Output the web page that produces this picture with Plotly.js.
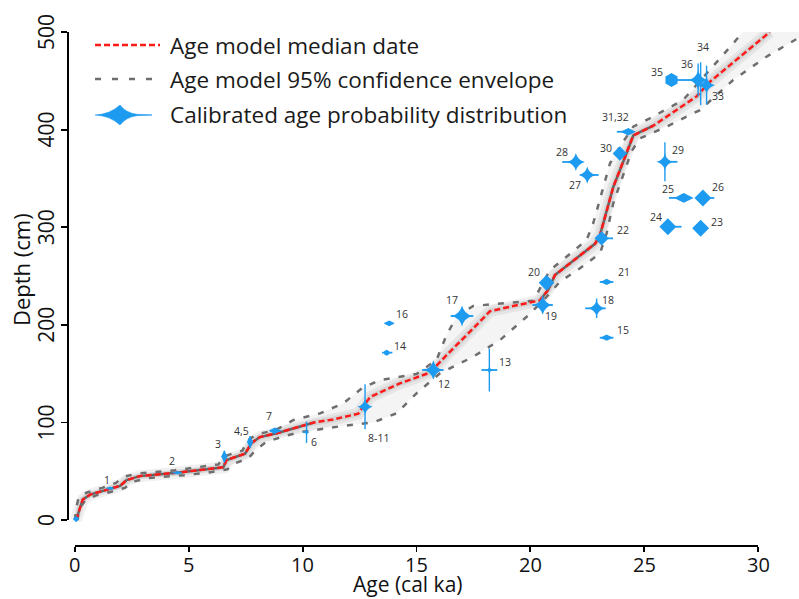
<!DOCTYPE html>
<html>
<head>
<meta charset="utf-8">
<script src="https://cdn.plot.ly/plotly-3.0.1.min.js"></script>
<style>html,body{margin:0;padding:0;background:#fff;}#chart{width:799px;height:599px;}</style>
</head>
<body>
<div id="chart"></div>
<script>
// ---------- DATA ----------
// Age model median (age in cal ka, depth in cm)
const medianAge   = [0.05, 0.2, 0.34, 0.66, 1.39, 1.98, 2.27, 2.85, 4.47, 5.49, 6.51, 6.66, 6.95, 7.47, 7.76, 8.12, 8.86, 9.59, 10.5, 11.34, 12.44, 12.96, 14.27, 15.59, 16.32, 17.35, 18.23, 19.4, 20.42, 20.79, 21.08, 22.84, 23.06, 23.64, 24.23, 24.52, 25.4, 27.3, 27.89, 30.52];
const medianDepth = [0, 10, 21, 26, 31, 35, 41, 45, 48.5, 51, 54, 61.5, 64, 68, 79, 85, 89, 94, 100, 103, 109, 126, 140, 151, 169, 193, 214, 220, 225, 236, 251, 283, 292, 341, 376, 394, 404, 434, 449, 500];

// 95% confidence envelope, younger (left) bound
const envYoungAge   = [0, 0.05, 0.15, 0.5, 1.2, 1.8, 2.1, 2.7, 4.4, 5.4, 6.3, 6.55, 6.9, 7.35, 7.6, 8.0, 8.8, 9.6, 10.76, 11.78, 12.6, 13.39, 15.0, 15.88, 16.32, 16.76, 17.49, 20.13, 20.86, 21.59, 22.47, 22.76, 23.06, 23.5, 23.93, 24.52, 25.25, 26.71, 28.91, 29.35];
const envYoungDepth = [0, 12, 22, 28, 33, 38, 44, 47.5, 51, 54, 57, 65, 68, 71, 82, 88, 92, 102.5, 109.3, 119.5, 135, 143.4, 149.6, 164, 189.5, 208.3, 219.3, 224.7, 256, 269.8, 286.9, 304, 327.9, 365.5, 382.5, 403, 411.6, 430.3, 488.4, 500.3];

// 95% confidence envelope, older (right) bound
const envOldAge   = [0.1, 0.2, 0.45, 0.9, 1.6, 2.2, 2.5, 3.2, 4.8, 5.8, 6.7, 7.0, 7.6, 7.95, 8.4, 9.2, 9.88, 11.64, 13.1, 14.12, 15.0, 16.03, 17.49, 18.67, 19.84, 20.65, 21.3, 22.18, 23.06, 23.35, 23.64, 24.15, 24.45, 24.81, 25.98, 27.45, 28.91, 30.37, 31.62, 32.3];
const envOldDepth = [0, 12, 20, 25, 29, 33, 39, 43, 46, 48.5, 52, 58, 63, 72, 80, 86, 90, 96, 100, 109.3, 129.8, 150.3, 167.3, 184.4, 208.3, 227, 244.2, 257.9, 273.2, 293.7, 324.5, 358.6, 378, 391, 403, 420, 450.8, 474.7, 491.8, 500];

// Calibrated radiocarbon dates
const dateLabel = ['', '1', '2', '3', '4,5', '7', '6', '8-11', '12', '13', '14', '16', '17', '19', '20', '18', '21', '15', '22', '28', '27', '30', '29', '25', '26', '24', '23', '31,32', '35', '36', '34', '33'];
const dateAge   = [0.05, 1.54, 4.49, 6.56, 7.69, 8.78, 10.17, 12.74, 15.74, 18.2, 13.69, 13.8, 17.0, 20.54, 20.71, 22.91, 23.35, 23.35, 23.13, 22.0, 22.5, 23.93, 25.91, 26.74, 27.58, 26.04, 27.48, 24.3, 26.2, 27.37, 27.48, 27.74];
const dateDepth = [1, 32.5, 48.5, 65, 80, 91.5, 90, 116, 153.7, 153.7, 171.5, 201.5, 209, 220.3, 243, 216.9, 243.9, 186.8, 288.6, 366.8, 353.5, 375.5, 367, 330, 330, 300.5, 298.9, 397.8, 450.8, 450.8, 447, 445.5];
const dateAgeMinus = [0.08, 0.15, 0.2, 0.1, 0.1, 0.2, 0.15, 0.15, 0.5, 0.35, 0.2, 0.15, 0.5, 0.45, 0.15, 0.5, 0.3, 0.3, 0.1, 0.6, 0.3, 0.2, 0.15, 0.65, 0.2, 0.1, 0.2, 0.5, 0.2, 0.1, 0.02, 0.1];
const dateAgePlus  = [0.08, 0.15, 0.2, 0.1, 0.1, 0.25, 0.05, 0.15, 0.45, 0.35, 0.25, 0.15, 0.5, 0.45, 0.15, 0.4, 0.3, 0.3, 0.5, 0.3, 0.5, 0.1, 0.55, 0.35, 0.5, 0.6, 0.2, 0.2, 1.0, 0.1, 0.02, 0.1];
const dateDepthErr = [0, 0, 0, 6, 6, 0, 11, 23, 5, 22, 0, 0, 6, 5, 4, 10, 0, 0, 3, 6, 5, 3, 20, 0, 0, 4, 3, 2, 0, 17, 22, 20];

// axis ticks
const xTickVals = [0, 5, 10, 15, 20, 25, 30];
const yTickVals = [0, 100, 200, 300, 400, 500];

// ---------- STYLE (not data) ----------
const BLUE = '#1d9bf0';
const dateSymbol = ['diamond', 'diamond-wide', 'diamond-wide', 'diamond-tall', 'diamond-tall', 'diamond-wide', 'star-diamond', 'star-diamond', 'star-diamond', 'star-diamond', 'hexagon', 'diamond-wide', 'star-diamond', 'star-diamond', 'diamond', 'star-diamond', 'diamond-wide', 'diamond-wide', 'diamond', 'star-diamond', 'star-diamond', 'diamond', 'star-diamond', 'diamond-wide', 'diamond', 'diamond', 'diamond', 'diamond-wide', 'hexagon', 'star-diamond', 'circle', 'star-diamond'];
const dateSize = [5, 5, 5, 9, 9, 9, 4, 11, 14, 5, 6, 8, 15, 14, 12, 12, 9, 9, 11, 13, 12, 11, 12, 14, 13, 13, 13, 11, 14, 14, 2, 12];
// label offsets in px [xshift, yshift]
const labelShift = [[0,0],[-3,8],[-5,12],[-6,13],[-9,11],[-6,15],[7,-10],[13,-31],[11,-14],[16,8],[13,7],[13,9],[-10,16],[8,-11],[-13,11],[11,8],[17,10],[16,8],[21,8],[-14,10],[-12,-10],[-14,6],[13,12],[-16,9],[15,11],[-12,10],[16,6],[-13,15],[-15,8],[-11,16],[2,37],[11,-11]];

// plot geometry
const L = 68, T = 32, W = 731, H = 514;
const px2paperX = p => (p - L) / W;
const px2paperY = p => (T + H - p) / H;

// envelope polygon: younger bound up, older bound back down
const bandX = envYoungAge.concat(envOldAge.slice().reverse());
const bandY = envYoungDepth.concat(envOldDepth.slice().reverse());

// dark core of the shading where the envelope is narrow
const coreX = [], coreY = [];
for (let i = 0; i < medianAge.length; i++) {
  const d = medianDepth[i];
  if (d <= 100 || (d >= 225 && d <= 404)) { coreX.push(medianAge[i]); coreY.push(d); }
  else if (coreX.length && coreX[coreX.length - 1] !== null) { coreX.push(null); coreY.push(null); }
}

const traces = [
  {x: bandX, y: bandY, mode: 'lines', fill: 'toself', fillcolor: 'rgba(0,0,0,0.045)', line: {width: 0, color: 'rgba(0,0,0,0)'}, hoverinfo: 'skip', showlegend: false},
  {x: medianAge, y: medianDepth, mode: 'lines', line: {width: 12, color: 'rgba(0,0,0,0.06)'}, hoverinfo: 'skip', showlegend: false},
  {x: medianAge, y: medianDepth, mode: 'lines', line: {width: 6, color: 'rgba(0,0,0,0.07)'}, hoverinfo: 'skip', showlegend: false},
  {x: coreX, y: coreY, mode: 'lines', connectgaps: false, line: {width: 2.5, color: 'rgba(25,25,25,0.6)'}, hoverinfo: 'skip', showlegend: false},
  {x: envYoungAge, y: envYoungDepth, mode: 'lines', line: {width: 2.5, color: '#6e6e6e', dash: '6px,9px'}, showlegend: false},
  {x: envOldAge, y: envOldDepth, mode: 'lines', line: {width: 2.5, color: '#6e6e6e', dash: '6px,9px'}, showlegend: false},
  {x: medianAge, y: medianDepth, mode: 'lines', line: {width: 2.5, color: '#ff1a1a', dash: '6px,3px'}, showlegend: false},
  {x: dateAge, y: dateDepth, mode: 'markers',
   marker: {color: BLUE, size: dateSize, symbol: dateSymbol, opacity: 1, line: {width: 0}},
   error_x: {type: 'data', symmetric: false, array: dateAgePlus, arrayminus: dateAgeMinus, color: BLUE, thickness: 1.8, width: 0},
   error_y: {type: 'data', symmetric: true, array: dateDepthErr, color: BLUE, thickness: 1.4, width: 0},
   showlegend: false}
];

const FONT = '"Open Sans", "DejaVu Sans", sans-serif';
const annotations = [];
for (let i = 0; i < dateLabel.length; i++) {
  if (!dateLabel[i]) continue;
  annotations.push({x: dateAge[i], y: dateDepth[i], xref: 'x', yref: 'y', text: dateLabel[i], showarrow: false,
    xanchor: 'center', yanchor: 'middle',
    xshift: labelShift[i][0], yshift: labelShift[i][1], font: {family: FONT, size: 10.5, color: '#333'}});
}
// tick labels (R-style placement)
xTickVals.forEach(v => annotations.push({x: v, xref: 'x', yref: 'paper', y: px2paperY(564), xanchor: 'center', yanchor: 'middle',
  text: String(v), showarrow: false, borderpad: 0, font: {family: FONT, size: 20, color: '#111'}}));
yTickVals.forEach(v => annotations.push({y: v, yref: 'y', xref: 'paper', x: px2paperX(46), xanchor: 'center', yanchor: 'middle',
  text: String(v), textangle: -90, showarrow: false, font: {family: FONT, size: 21, color: '#111'}}));
// axis titles
annotations.push({xref: 'paper', yref: 'paper', x: px2paperX(408), y: px2paperY(584), xanchor: 'center', yanchor: 'middle', text: 'Age (cal ka)', showarrow: false, borderpad: 0, font: {family: FONT, size: 21, color: '#111'}});
annotations.push({xref: 'paper', yref: 'paper', x: px2paperX(21), y: px2paperY(270), xanchor: 'center', yanchor: 'middle', text: 'Depth (cm)', textangle: -90, showarrow: false, font: {family: FONT, size: 22, color: '#111'}});
// legend text
const legendRows = ['Age model median date', 'Age model 95% confidence envelope', 'Calibrated age probability distribution'];
const legendY = [45, 79, 115];
legendRows.forEach((t, i) => annotations.push({xref: 'paper', yref: 'paper', x: px2paperX(168), y: px2paperY(legendY[i]), xanchor: 'left', yanchor: 'middle', text: t, showarrow: false, font: {family: FONT, size: 22.5, color: '#1a1a1a'}}));

// legend symbol for the probability distribution (pixel path -> paper)
function pathPx(cmds) {
  return cmds.map(c => c[0] + c.slice(1).map((v, k) => (k % 2 === 0 ? px2paperX(v) : px2paperY(v)).toFixed(5)).join(',')).join(' ');
}
const spindle = pathPx([
  ['M', 95, 115], ['Q', 110, 114.3, 120, 105], ['Q', 126, 113, 137, 114.3], ['L', 152, 114.8], ['L', 152, 115.2], ['L', 137, 115.7], ['Q', 126, 117, 120, 125], ['Q', 110, 115.7, 95, 115], ['Z']
]);

const shapes = [
  {type: 'line', xref: 'x', yref: 'paper', x0: 0, x1: 30, y0: 0, y1: 0, line: {color: '#000', width: 2}},
  {type: 'line', xref: 'paper', yref: 'y', x0: 0, x1: 0, y0: 0, y1: 500, line: {color: '#000', width: 2}},
  {type: 'line', xref: 'paper', yref: 'paper', x0: px2paperX(95), x1: px2paperX(160), y0: px2paperY(45), y1: px2paperY(45), line: {color: '#ff1a1a', width: 2.5, dash: '6px,3px'}},
  {type: 'line', xref: 'paper', yref: 'paper', x0: px2paperX(95), x1: px2paperX(153), y0: px2paperY(79), y1: px2paperY(79), line: {color: '#6e6e6e', width: 2.5, dash: '6px,11px'}},
  {type: 'path', xref: 'paper', yref: 'paper', path: spindle, fillcolor: BLUE, line: {width: 0.5, color: BLUE}}
];

const layout = {
  width: 799, height: 599,
  margin: {l: L, r: 799 - L - W, t: T, b: 599 - T - H, pad: 0},
  paper_bgcolor: '#fff', plot_bgcolor: '#fff',
  showlegend: false,
  xaxis: {range: [-0.307, 31.8], tickvals: xTickVals, ticks: 'outside', ticklen: 5, tickwidth: 1.8, tickcolor: '#000',
          showticklabels: false, automargin: false, showgrid: false, zeroline: false, showline: false},
  yaxis: {range: [-26.6, 500], tickvals: yTickVals, ticks: 'outside', ticklen: 6, tickwidth: 1.8, tickcolor: '#000',
          showticklabels: false, automargin: false, showgrid: false, zeroline: false, showline: false},
  annotations: annotations,
  shapes: shapes
};

Plotly.newPlot('chart', traces, layout, {staticPlot: true, displayModeBar: false});
</script>
</body>
</html>
